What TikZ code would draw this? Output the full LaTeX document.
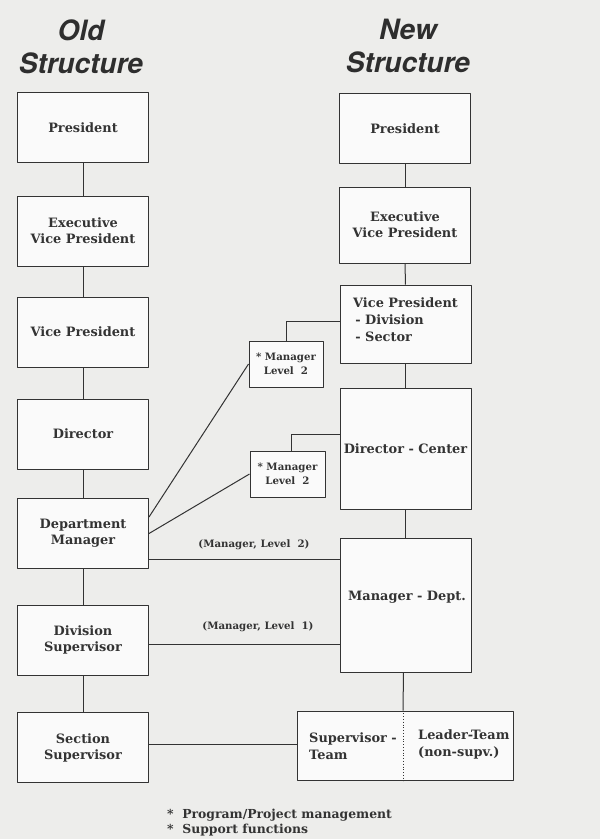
\documentclass[tikz,border=0pt]{standalone}
\usepackage{fontspec}
\setmainfont{DejaVu Serif}
\newfontfamily\headfont{TeX Gyre Heros}
\usetikzlibrary{positioning}
\definecolor{paper}{rgb}{0.93,0.93,0.92}
\definecolor{ink}{rgb}{0.2,0.2,0.2}
\definecolor{boxfill}{rgb}{0.98,0.98,0.98}

\tikzset{
  orgbox/.style={draw=ink, fill=boxfill, line width=1pt, minimum width=131pt,
    minimum height=70pt, inner sep=0pt, align=center, text=ink,
    font=\bfseries\fontsize{12.9}{16}\selectfont},
  sidebox/.style={orgbox, minimum width=74pt, minimum height=46pt,
    font=\bfseries\fontsize{10.2}{14}\selectfont},
  boxtext/.style={text=ink, align=left, inner sep=0pt,
    font=\bfseries\fontsize{12.9}{17}\selectfont},
  notetext/.style={text=ink, inner sep=0pt, font=\bfseries\fontsize{10.2}{14}\selectfont},
  headtext/.style={text=ink!90!black, align=center, inner sep=0pt,
    font=\headfont\bfseries\itshape\fontsize{28}{33}\selectfont},
  link/.style={draw=ink, line width=1pt},
}

\begin{document}
\begin{tikzpicture}[x=1pt, y=-1pt, line join=round]

  \useasboundingbox (0,0) rectangle (600,839);
  \fill[paper] (0,0) rectangle (600,839);

  %-------------------
  % Titles
  %-------------------
  \node[headtext] (oldtitle) at (81,47) {Old\\Structure};
  \node[headtext] (newtitle) at (408,46) {New\\Structure};

  %-------------------
  % Old structure (left column)
  %-------------------
  \node[orgbox] (opres) at (83,127.5) {President};
  \node[orgbox] (oevp) at (83,231) {Executive\\Vice President};
  \node[orgbox] (ovp) at (83,332) {Vice President};
  \node[orgbox] (odir) at (83,434) {Director};
  \node[orgbox] (odept) at (83,533.5) {Department\\Manager};
  \node[orgbox] (odiv) at (83,640) {Division\\Supervisor};
  \node[orgbox] (osec) at (83,747.5) {Section\\Supervisor};
  \foreach \a/\b in {opres/oevp, oevp/ovp, ovp/odir, odir/odept, odept/odiv, odiv/osec}{
      \draw[link] (\a) -- (\b);
    }

  %-------------------
  % New structure (right column)
  %-------------------
  \node[orgbox] (npres) at (405,128.5) {President};
  \node[orgbox, minimum height=76pt] (nevp) at (405,225) {Executive\\Vice President};
  \node[orgbox, minimum height=78pt] (nvp) at (405.5,324) {};
  \node[boxtext, anchor=north west] (nvptext) at (353,297)
    {Vice President\\\,- Division\\\,- Sector};
  \node[orgbox, minimum height=121pt] (ndir) at (405.5,448.5) {Director - Center};
  \node[orgbox, minimum height=134pt] (nmgr) at (405.5,605) {};
  \node[boxtext] (nmgrtext) at (407,597) {Manager - Dept.};
  \node[orgbox, minimum width=216pt, minimum height=69pt] (nteam) at (405,745.5) {};
  \node[boxtext, anchor=west] (nsuptext) at (309,746) {Supervisor -\\Team};
  \node[boxtext, anchor=west] (nleadtext) at (418,744) {Leader-Team\\(non-supv.)};
  \draw[ink, line width=0.8pt, dotted] ([xshift=-2pt]nteam.north) -- ([xshift=-2pt]nteam.south);

  \foreach \a/\b in {npres/nevp, nevp/nvp, nvp/ndir, ndir/nmgr}{
      \draw[link] (\a) -- (\b);
    }
  \draw[link] ([xshift=-2pt]nmgr.south) -- ([xshift=-2pt]nteam.north);

  %-------------------
  % Program / project managers
  %-------------------
  \node[sidebox] (mgra) at (286,364) {* Manager\\Level~~2};
  \node[sidebox, minimum width=75pt] (mgrb) at (287.5,474) {* Manager\\Level~~2};
  \draw[link] (mgra.north) |- ([yshift=3pt]nvp.west);
  \draw[link] ([xshift=3.5pt]mgrb.north) |- ([yshift=14.5pt]ndir.west);
  \draw[link] ([yshift=16.5pt]odept.east) -- (mgra.west);
  \draw[link] (odept.east) -- (mgrb.west);

  %-------------------
  % Cross links between columns
  %-------------------
  \coordinate (lvtwo) at ([yshift=-25.5pt]odept.east);
  \coordinate (lvone) at ([yshift=-4pt]odiv.east);
  \coordinate (lvteam) at ([yshift=3.5pt]osec.east);
  \draw[link] (lvtwo) -- (lvtwo -| nmgr.west);
  \draw[link] (lvone) -- (lvone -| nmgr.west);
  \draw[link] (lvteam) -- (lvteam -| nteam.west);
  \node[notetext] (lvtwolabel) at (254,545) {(Manager, Level~~2)};
  \node[notetext] (lvonelabel) at (258,627) {(Manager, Level~~1)};

  %-------------------
  % Footnote
  %-------------------
  \node[text=ink, align=left, inner sep=0pt, anchor=west,
    font=\bfseries\fontsize{12.4}{15}\selectfont] (footnote) at (167,823)
    {*~~Program/Project management\\*~~Support functions};

\end{tikzpicture}
\end{document}
